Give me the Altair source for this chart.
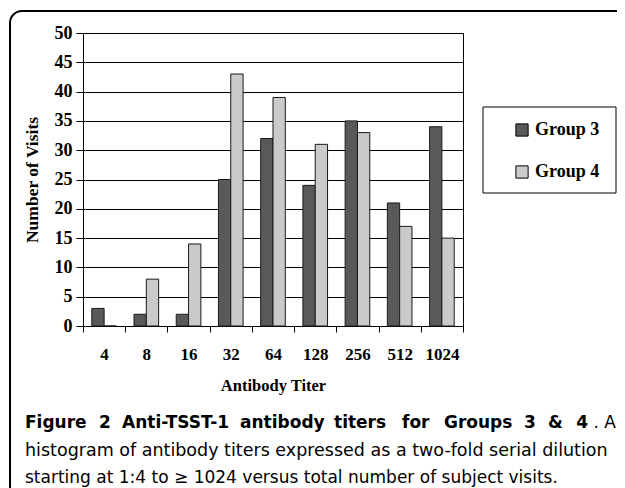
import altair as alt
import pandas as pd

titers = ["4", "8", "16", "32", "64", "128", "256", "512", "1024"]
group3 = [3, 2, 2, 25, 32, 24, 35, 21, 34]
group4 = [0, 8, 14, 43, 39, 31, 33, 17, 15]
groups = ["Group 3", "Group 4"]
colors = ["#58595b", "#c9cacc"]
y_ticks = list(range(0, 51, 5))

# caption (first line is justified in the original, so it is set word by word)
caption_bold_words = ["Figure", "2", "Anti-TSST-1", "antibody", "titers",
                      "for", "Groups", "3", "&", "4"]
caption_tail = ". A"
caption_line2 = "histogram of antibody titers expressed as a two-fold serial dilution"
caption_line3 = "starting at 1:4 to \u2265 1024 versus total number of subject visits."

rows = []
for t, a, b in zip(titers, group3, group4):
    rows.append({"titer": t, "group": groups[0], "visits": a})
    rows.append({"titer": t, "group": groups[1], "visits": b})
df = pd.DataFrame(rows)
one = pd.DataFrame({"k": [0]})

SERIF = "Liberation Serif"
SANS = "DejaVu Sans"

frame = alt.Chart(one).mark_rect(
    fillOpacity=0, stroke="black", strokeWidth=2, cornerRadius=12
).encode(x=alt.value(-73), x2=alt.value(700), y=alt.value(-22), y2=alt.value(600))

legend_box = alt.Chart(one).mark_rect(
    fill="white", stroke="black", strokeWidth=1
).encode(x=alt.value(400), x2=alt.value(533), y=alt.value(74), y2=alt.value(160))

bars = alt.Chart(df).mark_bar(stroke="#1a1a1a", strokeWidth=1).encode(
    x=alt.X(
        "titer:N", sort=titers,
        scale=alt.Scale(paddingInner=0, paddingOuter=0),
        axis=alt.Axis(
            title="Antibody Titer", labelAngle=0, tickBand="extent",
            tickSize=6, labelPadding=14, titlePadding=15,
            domainColor="black", tickColor="black", grid=False,
            labelFontSize=17, titleFontSize=16.5,
        ),
    ),
    xOffset=alt.XOffset(
        "group:N", sort=groups,
        scale=alt.Scale(paddingInner=0, paddingOuter=0.715),
    ),
    y=alt.Y(
        "visits:Q",
        scale=alt.Scale(domain=[0, 50], nice=False),
        axis=alt.Axis(
            title="Number of Visits", values=y_ticks, grid=True,
            gridColor="black", gridOpacity=1, gridWidth=1,
            tickSize=7, labelPadding=4, titlePadding=13,
            domainColor="black", tickColor="black",
            labelFontSize=18, titleFontSize=17.5,
        ),
    ),
    color=alt.Color(
        "group:N",
        scale=alt.Scale(domain=groups, range=colors),
        legend=alt.Legend(
            orient="none", legendX=430, legendY=88, title=None,
            symbolType="square", symbolSize=150, symbolStrokeColor="black",
            symbolStrokeWidth=1, symbolOpacity=1,
            labelFont=SERIF, labelFontSize=18, labelFontWeight="bold",
            labelColor="black", rowPadding=24, labelOffset=4, padding=0,
        ),
    ),
)

def cap(text, x, y, align="left", bold=False, size=17):
    kw = dict(text=text, font=SANS, fontSize=size, align=align,
              baseline="middle", color="black")
    if bold:
        kw["fontWeight"] = "bold"
    return alt.Chart(one).mark_text(**kw).encode(x=alt.value(x), y=alt.value(y))

# left edges (page px) for justified first line
word_x = [25, 99, 122, 240, 334, 402, 444, 524, 548]
caps = [cap(w, x - 83, 390, bold=True) for w, x in zip(caption_bold_words[:-1], word_x)]
caps.append(cap(caption_bold_words[-1], 505, 390, align="right", bold=True))
caps += [
    cap(caption_tail, 533, 390, align="right"),
    cap(caption_line2, -58, 418, size=17.5),
    cap(caption_line3, -58, 445),
]

chart = alt.layer(frame, legend_box, bars, *caps).properties(
    width=380, height=293,
    padding={"left": 75, "top": 25, "right": 154, "bottom": 162},
    autosize=alt.AutoSizeParams(type="none"),
).configure_view(
    stroke="black", strokeWidth=1
).configure_axis(
    labelFont=SERIF, titleFont=SERIF, labelFontWeight="bold",
    titleFontWeight="bold", labelColor="black", titleColor="black",
)

chart.save("out.html", embed_options={"renderer": "svg", "actions": False})
